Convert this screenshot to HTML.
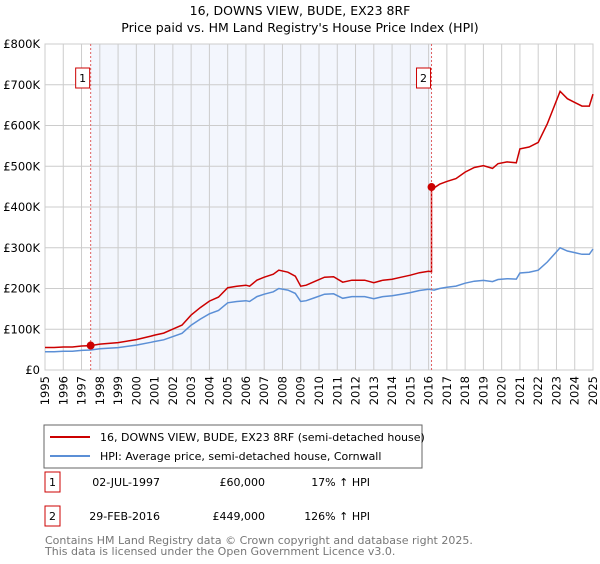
<!DOCTYPE html>
<html><head><meta charset="utf-8"><style>
body{margin:0;background:#fff;font-family:"DejaVu Sans","Liberation Sans",sans-serif;}
svg text{font-family:"DejaVu Sans","Liberation Sans",sans-serif;}
</style></head><body>
<svg id="c" width="600" height="560" xmlns="http://www.w3.org/2000/svg">
<text x="300" y="15" text-anchor="middle" font-size="12.5">16, DOWNS VIEW, BUDE, EX23 8RF</text>
<text x="300" y="32" text-anchor="middle" font-size="12.5">Price paid vs. HM Land Registry's House Price Index (HPI)</text>
<g id="plot"></g>
<rect x="44" y="425" width="378" height="43" fill="#fff" stroke="#666"/>
<line x1="50" y1="437" x2="90" y2="437" stroke="#cc0000" stroke-width="2"/>
<text x="100" y="441" font-size="11">16, DOWNS VIEW, BUDE, EX23 8RF (semi-detached house)</text>
<line x1="50" y1="456" x2="90" y2="456" stroke="#5b8fd6" stroke-width="2"/>
<text x="100" y="460" font-size="11">HPI: Average price, semi-detached house, Cornwall</text>
<rect x="45" y="472" width="15" height="20" fill="none" stroke="#cc0000"/>
<text x="52.5" y="486" text-anchor="middle" font-size="11">1</text>
<text x="160" y="486" text-anchor="end" font-size="11">02-JUL-1997</text>
<text x="265" y="486" text-anchor="end" font-size="11">£60,000</text>
<text x="370" y="486" text-anchor="end" font-size="11">17% ↑ HPI</text>
<rect x="45" y="506" width="15" height="20" fill="none" stroke="#cc0000"/>
<text x="52.5" y="520" text-anchor="middle" font-size="11">2</text>
<text x="160" y="520" text-anchor="end" font-size="11">29-FEB-2016</text>
<text x="265" y="520" text-anchor="end" font-size="11">£449,000</text>
<text x="370" y="520" text-anchor="end" font-size="11">126% ↑ HPI</text>
<text x="45" y="544" font-size="11" fill="#777">Contains HM Land Registry data © Crown copyright and database right 2025.</text>
<text x="45" y="555" font-size="11" fill="#777">This data is licensed under the Open Government Licence v3.0.</text>
</svg>
<script>
const hpiYears=[1995,1995.5,1996,1996.5,1997,1997.5,1998,1999,2000,2000.8,2001,2001.5,2002,2002.5,2003,2003.5,2004,2004.5,2005,2005.5,2006,2006.2,2006.6,2007,2007.5,2007.8,2008.3,2008.7,2009,2009.3,2009.8,2010.3,2010.8,2011.3,2011.8,2012.5,2013,2013.5,2014,2014.5,2015,2015.5,2016,2016.3,2016.6,2017,2017.5,2018,2018.5,2019,2019.5,2019.8,2020.3,2020.8,2021,2021.5,2022,2022.5,2022.8,2023.2,2023.6,2024,2024.4,2024.8,2025];
const hpiValues=[45,45,46,46,48,49,52,55,61,68,70,74,82,90,110,125,138,146,165,168,170,168,180,186,192,200,196,188,168,170,178,186,187,176,180,180,175,180,182,186,190,195,198,196,200,203,206,213,218,220,217,222,224,223,238,240,245,265,280,300,292,288,284,284,297];
const saleYears=[1997.5,2016.16];
const salePrices=[60000,449000];
const yTicks=[0,100000,200000,300000,400000,500000,600000,700000,800000];
const yTickLabels=["£0","£100K","£200K","£300K","£400K","£500K","£600K","£700K","£800K"];
const xTicks=[1995,1996,1997,1998,1999,2000,2001,2002,2003,2004,2005,2006,2007,2008,2009,2010,2011,2012,2013,2014,2015,2016,2017,2018,2019,2020,2021,2022,2023,2024,2025];

const NS="http://www.w3.org/2000/svg";
const g=document.getElementById('plot');
const L=45,R=593,T=44,B=370;
const xs=v=>L+(v-1995)/30*(R-L);
const ys=v=>B-v/800000*(B-T);
function mk(tag,attrs,parent){const e=document.createElementNS(NS,tag);for(const k in attrs)e.setAttribute(k,attrs[k]);(parent||g).appendChild(e);return e;}
function hpiAt(y){for(let i=0;i<hpiYears.length-1;i++){if(y<=hpiYears[i+1]){const t=(y-hpiYears[i])/(hpiYears[i+1]-hpiYears[i]);return (hpiValues[i]+t*(hpiValues[i+1]-hpiValues[i]))*1000;}}return hpiValues[hpiValues.length-1]*1000;}

let e=mk('rect',{x:L,y:T,width:R-L,height:B-T,fill:'#fff',stroke:'#ccc'});


e=mk('rect',{x:xs(saleYears[0]),y:T,width:xs(saleYears[1])-xs(saleYears[0]),height:B-T,fill:'#f0f4fd',opacity:0.8});


yTicks.forEach((v,i)=>{
  let l=mk('line',{x1:L,x2:R,y1:ys(v),y2:ys(v),stroke:'#ccc'});
  
  
  let t=mk('text',{x:40,y:ys(v)+4,'text-anchor':'end','font-size':'11.5'});
  t.textContent=yTickLabels[i];
  
  
});
xTicks.forEach(v=>{
  let l=mk('line',{x1:xs(v),x2:xs(v),y1:T,y2:B,stroke:'#ccc'});
  
  
  let t=mk('text',{x:0,y:0,'font-size':'11.5','text-anchor':'end',transform:`translate(${xs(v)+4},${B+6}) rotate(-90)`});
  t.textContent=v;
  
  
});
// HPI line
let d=hpiYears.map((y,i)=>(i?'L':'M')+xs(y).toFixed(1)+','+ys(hpiValues[i]*1000).toFixed(1)).join('');
e=mk('path',{d:d,fill:'none',stroke:'#5b8fd6','stroke-width':1.5});


// Property line: indexed from sales via HPI
const r1=salePrices[0]/hpiAt(saleYears[0]), r2=salePrices[1]/hpiAt(saleYears[1]);
let pts=[];
hpiYears.forEach((y,i)=>{if(y<saleYears[1])pts.push([y,hpiValues[i]*1000*r1]);});
pts.push([saleYears[1],hpiAt(saleYears[1])*r1]);
pts.push([saleYears[1],salePrices[1]]);
hpiYears.forEach((y,i)=>{if(y>saleYears[1])pts.push([y,hpiValues[i]*1000*r2]);});
d=pts.map((p,i)=>(i?'L':'M')+xs(p[0]).toFixed(1)+','+ys(p[1]).toFixed(1)).join('');
e=mk('path',{d:d,fill:'none',stroke:'#cc0000','stroke-width':1.5});


saleYears.forEach((y,i)=>{
  let l=mk('line',{x1:xs(y),x2:xs(y),y1:T,y2:B,stroke:'#e06060','stroke-dasharray':'2,2','stroke-width':1});
  
  
  let c=mk('circle',{cx:xs(y),cy:ys(salePrices[i]),r:4,fill:'#cc0000'});
  
  
  let b=mk('rect',{x:xs(y)-15,y:68,width:14,height:20,fill:'#fff',stroke:'#cc0000'});
  
  
  let t=mk('text',{x:xs(y)-8,y:82,'text-anchor':'middle','font-size':'11'});
  t.textContent=String(i+1);
  
  
});
</script>
</body></html>
